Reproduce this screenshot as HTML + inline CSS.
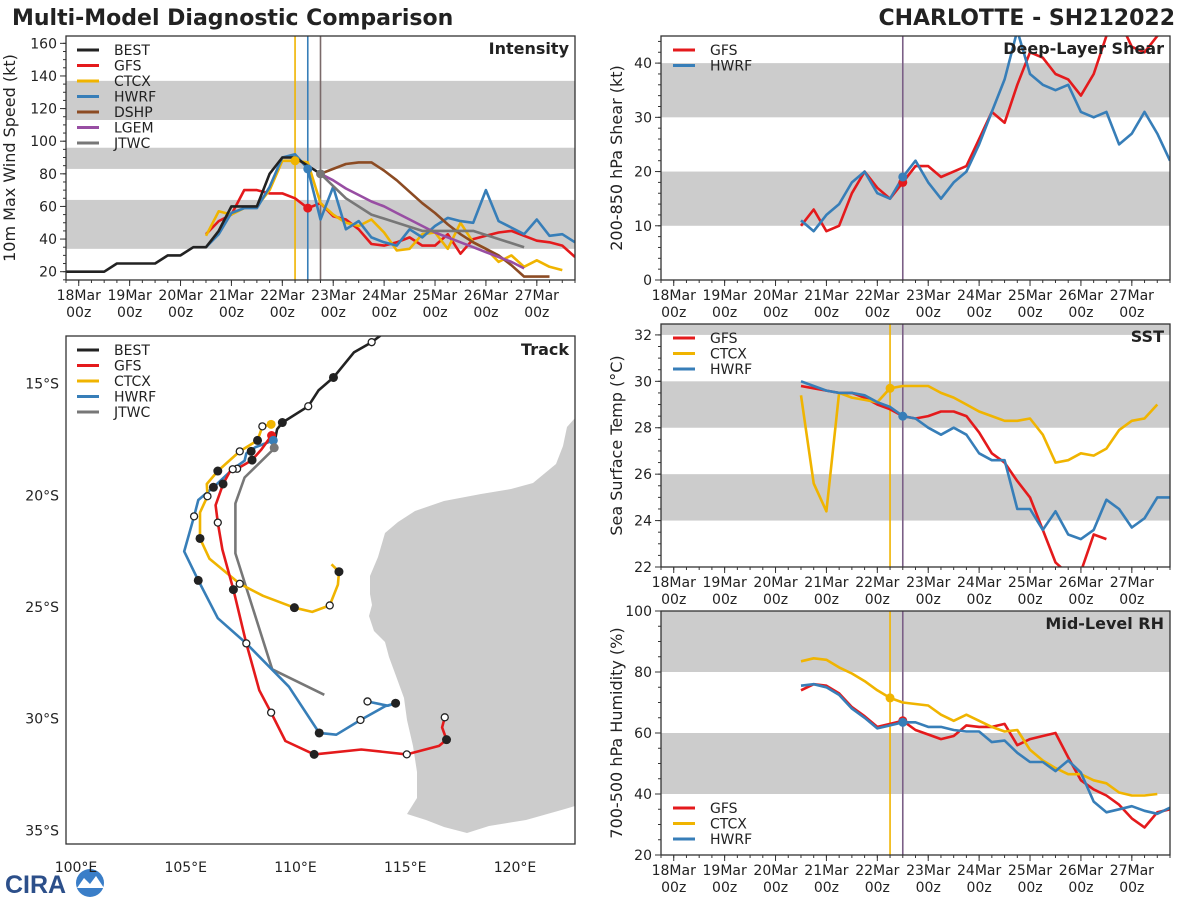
<!DOCTYPE html>
<html><head><meta charset="utf-8">
<style>
html,body{margin:0;padding:0;background:#fff;}
svg{display:block;font-family:"DejaVu Sans","Liberation Sans",sans-serif;}
</style></head>
<body>
<svg id="fig" width="1200" height="900" viewBox="0 0 1200 900" xmlns="http://www.w3.org/2000/svg">
<text x="12" y="25" font-size="22" font-weight="bold" fill="#222">Multi-Model Diagnostic Comparison</text>
<text x="1175" y="25" font-size="22" font-weight="bold" fill="#222" text-anchor="end">CHARLOTTE - SH212022</text>
<g>
<text x="5" y="893" font-size="25" font-weight="bold" fill="#2c4f8a" font-family="Liberation Sans, sans-serif">CIRA</text>
<circle cx="90" cy="883" r="14" fill="#3a7ec8"/>
<path d="M77,888 L84,878 L90,884 L96,876 L104,888 Z" fill="#fff"/>
</g>
</svg>
<script>
const C={red:'#e41a1c',yel:'#f0b400',blue:'#377eb8',brown:'#8c4b23',purp:'#984ea3',gray:'#777777',blk:'#222222',band:'#cccccc'};
// ---------- DATA ----------
const modelDays=[20.5,20.75,21,21.25,21.5,21.75,22,22.25,22.5,22.75,23,23.25,23.5,23.75,24,24.25,24.5,24.75,25,25.25,25.5,25.75,26,26.25,26.5,26.75,27,27.25,27.5,27.75];
const dayLabels=['18Mar','19Mar','20Mar','21Mar','22Mar','23Mar','24Mar','25Mar','26Mar','27Mar'];
const dayTicks=[18,19,20,21,22,23,24,25,26,27];
// Intensity
const bestDays=[17.75,18,18.25,18.5,18.75,19,19.25,19.5,19.75,20,20.25,20.5,20.75,21,21.25,21.5,21.75,22,22.25,22.5,22.75];
const bestVmax=[20,20,20,20,25,25,25,25,30,30,35,35,45,60,60,60,80,90,90,85,80];
const gfsVmax=[43,51,55,70,70,68,68,65,59,62,54,52,46,37,36,38,41,36,36,43,31,40,42,44,45,42,39,38,36,29];
const ctcxVmax=[42,57,55,59,60,70,88,88,87,62,55,50,48,52,44,33,34,43,44,34,50,38,34,26,30,23,27,23,21];
const hwrfVmax=[35,43,56,59,59,72,90,92,83,52,72,46,51,41,38,36,46,41,48,53,51,50,70,51,47,43,52,42,43,38];
const statDays=[22.75,23,23.25,23.5,23.75,24,24.25,24.5,24.75,25,25.25,25.5,25.75,26,26.25,26.5,26.75,27,27.25];
const dshpVmax=[80,83,86,87,87,82,76,69,62,56,49,43,38,34,30,24,17,17,17];
const lgemVmax=[80,76,71,67,63,60,56,52,48,44,41,38,35,32,29,26,22];
const jtwcDays=[22.75,23.25,23.75,24.75,25.75,26.75];
const jtwcVmax=[80,65,55,45,45,35];
// Shear
const gfsShear=[10,13,9,10,16,20,17,15,18,21,21,19,20,21,26,31,29,36,42,41,38,37,34,38,45,48,43,42,45,47];
const hwrfShear=[11,9,12,14,18,20,16,15,19,22,18,15,18,20,25,31,37,46,38,36,35,36,31,30,31,25,27,31,27,22];
// SST
const gfsSst=[29.8,29.7,29.6,29.5,29.5,29.3,29.0,28.8,28.5,28.4,28.5,28.7,28.7,28.5,27.8,26.9,26.5,25.7,25.0,23.6,22.2,21.7,21.8,23.4,23.2];
const ctcxSst=[29.4,25.6,24.4,29.5,29.3,29.2,29.1,29.7,29.8,29.8,29.8,29.5,29.3,29.0,28.7,28.5,28.3,28.3,28.4,27.7,26.5,26.6,26.9,26.8,27.1,27.9,28.3,28.4,29.0];
const hwrfSst=[30.0,29.8,29.6,29.5,29.5,29.4,29.1,28.9,28.5,28.4,28.0,27.7,28.0,27.7,26.9,26.6,26.6,24.5,24.5,23.6,24.4,23.4,23.2,23.6,24.9,24.5,23.7,24.1,25.0,25.0];
// RH
const gfsRh=[74,76,75.5,73,68.5,65.5,62,63,64,61,59.5,58,59,62.5,62,62,63,56,58,59,60,52,44.5,41.5,39.5,36.5,32,29,34,35];
const ctcxRh=[83.5,84.5,84,81.5,79.5,77,74,71.5,70,69.5,69,66,64,66,64,62,60.5,61,54.5,51,48.5,46.5,46.5,44.5,43.5,40.5,39.5,39.5,40];
const hwrfRh=[75.5,76,75,72.5,68,65,61.5,62.5,63.5,63.5,62,62,61,60.5,60.5,57,57.5,53.5,50.5,50.5,47.5,51,47,37.5,34,35,36,34.5,33.5,35.5];
// Track (lon E, lat S)
const bestLon=[113.92,113.47,112.66,111.73,111.05,110.58,109.4,109.16,109.06,109.03];
const bestLat=[12.81,13.14,13.6,14.72,15.3,16.01,16.74,17.04,17.54,17.87];
const gfsLon=[108.91,108.69,108.44,108.02,107.68,107.34,107.0,106.7,106.36,106.46,106.67,107.17,107.76,108.35,108.89,109.54,110.85,113.0,115.07,116.54,116.88,116.68,116.8];
const gfsLat=[17.32,17.62,17.95,18.42,18.62,18.81,18.95,19.49,20.44,21.22,22.43,24.22,26.63,28.73,29.73,31.0,31.6,31.38,31.6,31.22,30.94,30.39,29.94];
const ctcxLon=[108.89,108.49,108.27,107.46,106.46,105.96,105.99,105.65,105.65,106.08,107.46,108.52,109.95,110.76,111.56,111.93,111.98,111.64];
const ctcxLat=[16.82,16.91,17.54,18.03,18.91,19.49,20.04,20.77,21.93,22.84,23.96,24.5,25.03,25.22,24.93,24.0,23.42,23.09];
const hwrfLon=[108.99,108.18,107.76,107.68,107.14,106.26,105.57,105.38,104.93,105.57,106.46,107.76,109.7,111.08,111.86,112.96,114.09,114.56,114.2,113.28];
const hwrfLat=[17.54,17.84,18.12,18.45,18.83,19.64,20.21,20.94,22.51,23.81,25.5,26.63,28.57,30.64,30.72,30.06,29.44,29.31,29.42,29.23];
const jtwcLon=[109.06,107.68,107.26,107.26,108.94,111.31];
const jtwcLat=[17.87,19.2,20.36,22.6,27.79,28.93];
const markLon=[113.47,111.73,110.58,109.4,108.49,108.27,107.46,106.46,105.99,105.65,107.46,109.95,111.56,111.98,107.98,108.02,107.34,107.14,106.7,106.26,106.46,105.38,105.57,107.17,107.76,108.89,110.85,115.07,116.88,116.8,111.08,112.96,114.56,113.28];
const markLat=[13.14,14.72,16.01,16.74,16.91,17.54,18.03,18.91,20.04,21.93,23.96,25.03,24.93,23.42,18.03,18.42,18.81,18.83,19.49,19.64,21.22,20.94,23.81,24.22,26.63,29.73,31.6,31.6,30.94,29.94,30.64,30.06,29.31,29.23];
const markOpen=[1,0,1,0,1,0,1,0,1,0,1,0,1,0,0,0,1,1,0,0,1,1,0,0,1,1,0,1,0,1,0,1,0,1];

// ---------- HELPERS ----------
const NS='http://www.w3.org/2000/svg';
const svg=document.getElementById('fig');
function el(tag,attrs,parent){const e=document.createElementNS(NS,tag);for(const k in attrs)e.setAttribute(k,attrs[k]);(parent||svg).appendChild(e);return e;}
function txt(x,y,s,size,parent,extra){const t=el('text',Object.assign({x:x,y:y,'font-size':size,fill:'#222'},extra||{}),parent);t.textContent=s;return t;}
let clipN=0;
function panel(name,L,T,W,H,ymin,ymax){
  const g=el('g',{});
  
  
  const id='clip'+(clipN++);
  const cp=el('clipPath',{id:id},g);el('rect',{x:L,y:T,width:W,height:H},cp);
  const inner=el('g',{'clip-path':'url(#'+id+')'},g);
  const xs=d=>L+(d-17.75)*50.9;
  const ys=v=>T+H-(v-ymin)/(ymax-ymin)*H;
  return {g,inner,xs,ys,L,T,W,H,ymin,ymax};
}
function band(p,a,b){const r=el('rect',{x:p.L,y:p.ys(b),width:p.W,height:p.ys(a)-p.ys(b),fill:C.band},p.inner);
  
  }
function series(p,days,vals,color,name,w){
  const pts=vals.map((v,i)=>p.xs(days[i]).toFixed(1)+','+p.ys(v).toFixed(1)).join(' ');
  const pl=el('polyline',{points:pts,fill:'none',stroke:color,'stroke-width':w||2.6,'stroke-linejoin':'round'},p.inner);
  
  
}
function dot(p,d,v,color,name){const c=el('circle',{cx:p.xs(d),cy:p.ys(v),r:4.5,fill:color},p.inner);
  
  }
function vline(p,d,color,name){const l=el('line',{x1:p.xs(d),x2:p.xs(d),y1:p.T,y2:p.T+p.H,stroke:color,'stroke-width':1.6},p.inner);
  
  }
function frame(p,yt,ylabels,minorStep,ytitle,tx){
  el('rect',{x:p.L,y:p.T,width:p.W,height:p.H,fill:'none',stroke:'#333','stroke-width':1.3},p.g);
  yt.forEach((v,i)=>{const y=p.ys(v);el('line',{x1:p.L-6,x2:p.L,y1:y,y2:y,stroke:'#333'},p.g);
    const t=txt(p.L-9,y+5,ylabels[i],14,p.g,{'text-anchor':'end'});
    
    });
  for(let v=Math.ceil(p.ymin/minorStep)*minorStep;v<=p.ymax;v+=minorStep){const y=p.ys(v);el('line',{x1:p.L-3,x2:p.L,y1:y,y2:y,stroke:'#333'},p.g);}
  dayTicks.forEach((d,i)=>{const x=p.xs(d);el('line',{x1:x,x2:x,y1:p.T+p.H,y2:p.T+p.H+6,stroke:'#333'},p.g);
    const t1=txt(x,p.T+p.H+20,dayLabels[i],14,p.g,{'text-anchor':'middle'});
    
    
    txt(x,p.T+p.H+37,'00z',14,p.g,{'text-anchor':'middle'});});
  for(let d=17.75;d<=27.76;d+=0.25){const x=p.xs(d);el('line',{x1:x,x2:x,y1:p.T+p.H,y2:p.T+p.H+3,stroke:'#333'},p.g);}
  const yc=p.T+p.H/2;
  const t=txt(tx,yc,ytitle,16,p.g,{'text-anchor':'middle',transform:'rotate(-90 '+tx+' '+yc+')'});
  
  
}
function ptitle(p,s){const t=txt(p.L+p.W-6,p.T+18,s,16,p.g,{'text-anchor':'end','font-weight':'bold'});
  
  }
function legend(p,x,y,names,colors){names.forEach((n,i)=>{const yy=y+i*15.5;
  const g=el('g',{},p.g);
  
  
  el('line',{x1:x,x2:x+22,y1:yy,y2:yy,stroke:colors[i],'stroke-width':3},g);
  txt(x+37,yy+5,n,14,g);});}

// ---------- INTENSITY ----------
const pI=panel('intensity-panel',66,36,509,244,14.9,164.5);
[[34,64],[83,96],[113,137]].forEach(b=>band(pI,b[0],b[1]));
vline(pI,22.25,C.yel,'ctcx-init-line');vline(pI,22.5,C.blue,'hwrf-init-line');vline(pI,22.75,'#7a6a6a','jtwc-init-line');
series(pI,modelDays,gfsVmax,C.red,'gfs-intensity-line');
series(pI,modelDays,ctcxVmax,C.yel,'ctcx-intensity-line');
series(pI,modelDays,hwrfVmax,C.blue,'hwrf-intensity-line');
series(pI,statDays,dshpVmax,C.brown,'dshp-intensity-line');
series(pI,statDays,lgemVmax,C.purp,'lgem-intensity-line');
series(pI,jtwcDays,jtwcVmax,C.gray,'jtwc-intensity-line');
series(pI,bestDays,bestVmax,C.blk,'best-intensity-line');
dot(pI,22.25,88,C.yel,'ctcx-init-dot');dot(pI,22.5,59,C.red,'gfs-init-dot');dot(pI,22.5,83,C.blue,'hwrf-init-dot');dot(pI,22.75,80,C.gray,'jtwc-init-dot');
frame(pI,[20,40,60,80,100,120,140,160],['20','40','60','80','100','120','140','160'],5,'10m Max Wind Speed (kt)',15);
ptitle(pI,'Intensity');
legend(pI,77,50,['BEST','GFS','CTCX','HWRF','DSHP','LGEM','JTWC'],[C.blk,C.red,C.yel,C.blue,C.brown,C.purp,C.gray]);

// ---------- SHEAR ----------
const pS=panel('shear-panel',661,36,509,244,0,45);
[[10,20],[30,40]].forEach(b=>band(pS,b[0],b[1]));
vline(pS,22.5,'#7b5f86','init-line');
series(pS,modelDays,gfsShear,C.red,'gfs-shear-line');
series(pS,modelDays,hwrfShear,C.blue,'hwrf-shear-line');
dot(pS,22.5,18,C.red,'gfs-init-dot');dot(pS,22.5,19,C.blue,'hwrf-init-dot');
frame(pS,[0,10,20,30,40],['0','10','20','30','40'],2,'200-850 hPa Shear (kt)',622);
ptitle(pS,'Deep-Layer Shear');
legend(pS,673,50,['GFS','HWRF'],[C.red,C.blue]);

// ---------- SST ----------
const pT=panel('sst-panel',661,324,509,243,22,32.47);
[[24,26],[28,30],[32,34]].forEach(b=>band(pT,b[0],b[1]));
vline(pT,22.25,C.yel,'ctcx-init-line');vline(pT,22.5,'#7b5f86','init-line');
series(pT,modelDays,gfsSst,C.red,'gfs-sst-line');
series(pT,modelDays,ctcxSst,C.yel,'ctcx-sst-line');
series(pT,modelDays,hwrfSst,C.blue,'hwrf-sst-line');
dot(pT,22.25,29.7,C.yel,'ctcx-init-dot');dot(pT,22.5,28.5,C.blue,'hwrf-init-dot');
frame(pT,[22,24,26,28,30,32],['22','24','26','28','30','32'],0.5,'Sea Surface Temp (°C)',622);
ptitle(pT,'SST');
legend(pT,673,338,['GFS','CTCX','HWRF'],[C.red,C.yel,C.blue]);

// ---------- RH ----------
const pR=panel('rh-panel',661,611,509,244,20,100);
[[40,60],[80,100]].forEach(b=>band(pR,b[0],b[1]));
vline(pR,22.25,C.yel,'ctcx-init-line');vline(pR,22.5,'#7b5f86','init-line');
series(pR,modelDays,gfsRh,C.red,'gfs-rh-line');
series(pR,modelDays,ctcxRh,C.yel,'ctcx-rh-line');
series(pR,modelDays,hwrfRh,C.blue,'hwrf-rh-line');
dot(pR,22.25,71.5,C.yel,'ctcx-init-dot');dot(pR,22.5,64,C.red,'gfs-init-dot');dot(pR,22.5,63.5,C.blue,'hwrf-init-dot');
frame(pR,[20,40,60,80,100],['20','40','60','80','100'],5,'700-500 hPa Humidity (%)',622);
ptitle(pR,'Mid-Level RH');
legend(pR,673,808,['GFS','CTCX','HWRF'],[C.red,C.yel,C.blue]);

// ---------- TRACK ----------
const tg=el('g',{});


const TL=66,TT=336,TW=509,TH=508;
const lx=lon=>76+(lon-100)*21.95, ly=lat=>383.7+(lat-15)*22.33;
const cp=el('clipPath',{id:'trackclip'},tg);el('rect',{x:TL,y:TT,width:TW,height:TH},cp);
const ti=el('g',{'clip-path':'url(#trackclip)'},tg);
const land=el('polygon',{points:'575,418 567,427 563,446 556,464 533,483 511,489 481,494 444,501 415,511 398,522 385,533 378,557 370,576 370,594 372,605 369,616 374,631 385,642 389,657 396,676 404,698 407,720 413,746 417,772 417,798 407,814 426,820 444,827 467,833 489,826 526,820 565,809 575,806',fill:'#cccccc'},ti);


function tline(lons,lats,color,name){const pts=lons.map((l,i)=>lx(l).toFixed(1)+','+ly(lats[i]).toFixed(1)).join(' ');
  const pl=el('polyline',{points:pts,fill:'none',stroke:color,'stroke-width':2.6,'stroke-linejoin':'round'},ti);
  
  }
tline(jtwcLon,jtwcLat,C.gray,'jtwc-track');
tline(hwrfLon,hwrfLat,C.blue,'hwrf-track');
tline(ctcxLon,ctcxLat,C.yel,'ctcx-track');
tline(gfsLon,gfsLat,C.red,'gfs-track');
tline(bestLon,bestLat,C.blk,'best-track');
markLon.forEach((l,i)=>{const c=el('circle',{cx:lx(l),cy:ly(markLat[i]),r:markOpen[i]?3.5:4.5,fill:markOpen[i]?'#fff':'#222',stroke:'#222','stroke-width':markOpen[i]?1.3:0},ti);
  
  });
[[108.89,16.82,C.yel],[108.91,17.32,C.red],[108.99,17.54,C.blue],[109.03,17.87,C.gray]].forEach(m=>{
  const c=el('circle',{cx:lx(m[0]),cy:ly(m[1]),r:4.5,fill:m[2]},ti);
  
  });
el('rect',{x:TL,y:TT,width:TW,height:TH,fill:'none',stroke:'#333','stroke-width':1.3},tg);
const latTicks=[15,20,25,30,35],lonTicks=[100,105,110,115,120];
latTicks.forEach(v=>{const t=txt(59,ly(v)+5,v+'°S',14,tg,{'text-anchor':'end'});
  
  });
lonTicks.forEach(v=>{const t=txt(lx(v),872,v+'°E',14,tg,{'text-anchor':'middle'});
  
  });
txt(TL+TW-6,TT+19,'Track',16,tg,{'text-anchor':'end','font-weight':'bold'});
legend({g:tg},77,350,['BEST','GFS','CTCX','HWRF','JTWC'],[C.blk,C.red,C.yel,C.blue,C.gray]);
</script>
</body></html>
